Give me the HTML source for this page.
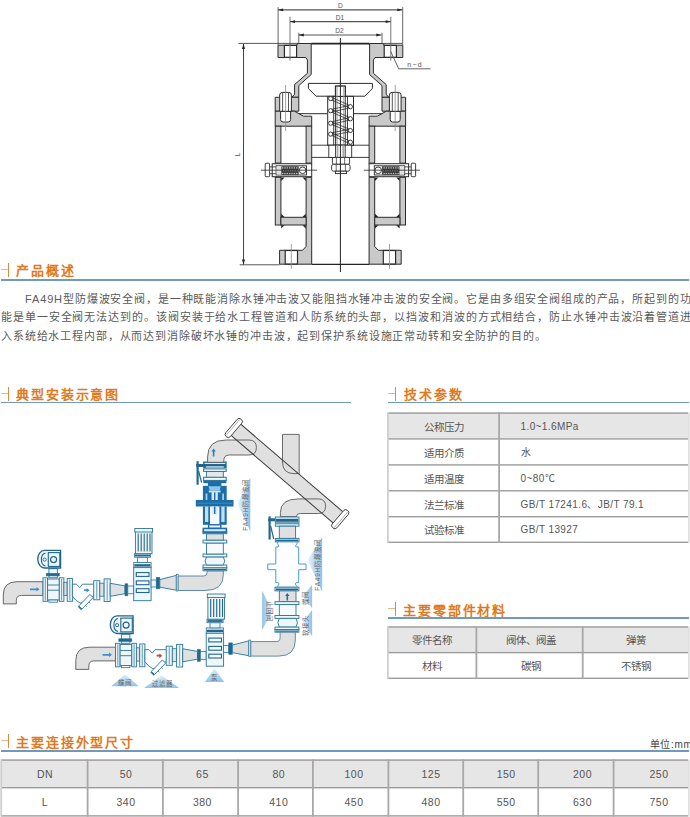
<!DOCTYPE html>
<html lang="zh-CN">
<head>
<meta charset="utf-8">
<style>
*{margin:0;padding:0;box-sizing:border-box}
html,body{width:690px;height:817px;overflow:hidden;background:#fff}
body{position:relative;font-family:"Liberation Sans",sans-serif;color:#444}
.a{position:absolute;white-space:nowrap}
.hd{position:absolute;font-size:13px;font-weight:bold;color:#e07a22;letter-spacing:1.9px;line-height:14px}
.ic{position:absolute;width:8px;height:14px}
.ic:before{content:"";position:absolute;left:0;top:6px;width:7px;height:1px;background:#eab98a}
.ic:after{content:"";position:absolute;left:7px;top:0;width:1px;height:14px;background:#d98a45}
.bl{position:absolute;height:1.6px;background:#7099c2}
.p{position:absolute;left:0;font-size:11px;letter-spacing:0.86px;line-height:14px;color:#5a5a5a;white-space:nowrap}
.t{position:absolute;font-size:10.5px;color:#555;line-height:12px;white-space:nowrap}
.v{letter-spacing:.4px;font-size:10px}
.n{letter-spacing:.5px}
.c{transform:translateX(-50%)}
</style>
</head>
<body>
<svg id="draw" width="690" height="817" viewBox="0 0 690 817" style="position:absolute;left:0;top:0">
<rect x="388" y="412.4" width="300" height="25.80000000000001" fill="#e6e6e6"/>
<rect x="388" y="412.4" width="300" height="1.4" fill="#9c9c9c"/>
<rect x="388" y="438.2" width="300" height="1.4" fill="#9c9c9c"/>
<rect x="388" y="464.2" width="300" height="1.4" fill="#9c9c9c"/>
<rect x="388" y="490.1" width="300" height="1.4" fill="#9c9c9c"/>
<rect x="388" y="516.0" width="300" height="1.4" fill="#9c9c9c"/>
<rect x="388" y="541.6" width="300" height="1.4" fill="#9c9c9c"/>
<rect x="387" y="412.4" width="1.8" height="130.60000000000002" fill="#cfcfcf"/>
<rect x="688" y="412.4" width="1.6" height="130.60000000000002" fill="#dedede"/>
<rect x="498.2" y="412.4" width="1.8" height="130.60000000000002" fill="#a8a8a8"/>
<rect x="388" y="626.3" width="300" height="25.600000000000023" fill="#e6e6e6"/>
<rect x="388" y="626.3" width="300" height="1.4" fill="#9c9c9c"/>
<rect x="388" y="651.9" width="300" height="1.4" fill="#9c9c9c"/>
<rect x="388" y="677.6" width="300" height="1.4" fill="#9c9c9c"/>
<rect x="387" y="626.3" width="1.8" height="52.700000000000045" fill="#cfcfcf"/>
<rect x="688" y="626.3" width="1.6" height="52.700000000000045" fill="#dedede"/>
<rect x="475.5" y="626.3" width="1.8" height="52.700000000000045" fill="#a8a8a8"/>
<rect x="581.8000000000001" y="626.3" width="1.8" height="52.700000000000045" fill="#a8a8a8"/>
<rect x="1" y="759.4" width="687" height="27.600000000000023" fill="#e6e6e6"/>
<rect x="1" y="759.4" width="687" height="1.4" fill="#9c9c9c"/>
<rect x="1" y="787.0" width="687" height="1.4" fill="#9c9c9c"/>
<rect x="1" y="815.2" width="687" height="1.4" fill="#9c9c9c"/>
<rect x="0.3" y="759.4" width="1.8" height="57.200000000000045" fill="#cfcfcf"/>
<rect x="688" y="759.4" width="1.6" height="57.200000000000045" fill="#dedede"/>
<rect x="86.7" y="759.4" width="1.8" height="57.200000000000045" fill="#a8a8a8"/>
<rect x="162.0" y="759.4" width="1.8" height="57.200000000000045" fill="#a8a8a8"/>
<rect x="237.2" y="759.4" width="1.8" height="57.200000000000045" fill="#a8a8a8"/>
<rect x="312.0" y="759.4" width="1.8" height="57.200000000000045" fill="#a8a8a8"/>
<rect x="387.5" y="759.4" width="1.8" height="57.200000000000045" fill="#a8a8a8"/>
<rect x="462.3" y="759.4" width="1.8" height="57.200000000000045" fill="#a8a8a8"/>
<rect x="537.3000000000001" y="759.4" width="1.8" height="57.200000000000045" fill="#a8a8a8"/>
<rect x="612.7" y="759.4" width="1.8" height="57.200000000000045" fill="#a8a8a8"/>
<g id="lh">
<polygon points="278,45.2 297,45.2 297,43.5 311.2,43.5 311.2,74.5 298.8,85.6 298.8,97.3 292,97.3 294.6,94.2 294.6,84.6 307.4,73.3 307.4,60 305.8,57.5 278,57.5" fill="#c9c9c9" stroke="#2b2b2b" stroke-width="1" stroke-linejoin="miter"/>
<rect x="284.4" y="45.4" width="12.20" height="11.90" fill="#fff" stroke="#2b2b2b" stroke-width="1.2"/>
<polygon points="275.2,97.3 298.8,97.3 298.8,111.2 275.2,111.2" fill="#c9c9c9" stroke="#2b2b2b" stroke-width="1" stroke-linejoin="miter"/>
<polygon points="275.2,111.2 294.5,111.2 299,113.7 303.5,116.2 311.7,116.2 311.7,126.2 275.2,126.2" fill="#c9c9c9" stroke="#2b2b2b" stroke-width="1" stroke-linejoin="miter"/>
<line x1="299" y1="113.7" x2="327.7" y2="113.7" stroke="#2b2b2b" stroke-width="1"/>
<path d="M279.7,111.4 L279.7,95 Q279.7,92.4 282.5,92.4 L288.6,92.4 Q291.4,92.4 291.4,95 L291.4,111.4 Z" fill="#fff" stroke="#2b2b2b" stroke-width="1"/>
<line x1="282.6" y1="92.6" x2="282.6" y2="111.2" stroke="#2b2b2b" stroke-width="0.8"/>
<line x1="288.5" y1="92.6" x2="288.5" y2="111.2" stroke="#2b2b2b" stroke-width="0.8"/>
<path d="M280.6,111.4 L280.6,119.5 Q280.6,122 283,122 L288.2,122 Q290.6,122 290.6,119.5 L290.6,111.4 Z" fill="#fff" stroke="#2b2b2b" stroke-width="1"/>
<line x1="285.6" y1="85" x2="285.6" y2="131" stroke="#8a8a8a" stroke-width="0.8"/>
<rect x="275.3" y="126.2" width="5.60" height="36.90" fill="#c9c9c9" stroke="#2b2b2b" stroke-width="1"/>
<rect x="306.1" y="126.2" width="5.60" height="36.90" fill="#c9c9c9" stroke="#2b2b2b" stroke-width="1"/>
<rect x="272.2" y="163.7" width="39.50" height="13.00" fill="#fff" stroke="#2b2b2b" stroke-width="1"/>
<rect x="276.1" y="165.8" width="30.40" height="9.20" fill="#fff" stroke="#2b2b2b" stroke-width="0.9"/>
<rect x="276.6" y="166.3" width="4.70" height="8.20" fill="#e2e2e2" stroke="#2b2b2b" stroke-width="0"/>
<rect x="281.3" y="166.3" width="17.40" height="8.50" fill="#3c3c3c" stroke="#2b2b2b" stroke-width="0"/>
<ellipse cx="282.6" cy="167.9" rx="0.75" ry="0.6" fill="#d8d8d8"/>
<ellipse cx="285.0" cy="167.9" rx="0.75" ry="0.6" fill="#d8d8d8"/>
<ellipse cx="287.3" cy="167.9" rx="0.75" ry="0.6" fill="#d8d8d8"/>
<ellipse cx="289.7" cy="167.9" rx="0.75" ry="0.6" fill="#d8d8d8"/>
<ellipse cx="292.0" cy="167.9" rx="0.75" ry="0.6" fill="#d8d8d8"/>
<ellipse cx="294.4" cy="167.9" rx="0.75" ry="0.6" fill="#d8d8d8"/>
<ellipse cx="296.7" cy="167.9" rx="0.75" ry="0.6" fill="#d8d8d8"/>
<ellipse cx="283.5" cy="170.6" rx="0.75" ry="0.6" fill="#d8d8d8"/>
<ellipse cx="285.9" cy="170.6" rx="0.75" ry="0.6" fill="#d8d8d8"/>
<ellipse cx="288.2" cy="170.6" rx="0.75" ry="0.6" fill="#d8d8d8"/>
<ellipse cx="290.6" cy="170.6" rx="0.75" ry="0.6" fill="#d8d8d8"/>
<ellipse cx="292.9" cy="170.6" rx="0.75" ry="0.6" fill="#d8d8d8"/>
<ellipse cx="295.2" cy="170.6" rx="0.75" ry="0.6" fill="#d8d8d8"/>
<ellipse cx="297.6" cy="170.6" rx="0.75" ry="0.6" fill="#d8d8d8"/>
<ellipse cx="282.6" cy="173.3" rx="0.75" ry="0.6" fill="#d8d8d8"/>
<ellipse cx="285.0" cy="173.3" rx="0.75" ry="0.6" fill="#d8d8d8"/>
<ellipse cx="287.3" cy="173.3" rx="0.75" ry="0.6" fill="#d8d8d8"/>
<ellipse cx="289.7" cy="173.3" rx="0.75" ry="0.6" fill="#d8d8d8"/>
<ellipse cx="292.0" cy="173.3" rx="0.75" ry="0.6" fill="#d8d8d8"/>
<ellipse cx="294.4" cy="173.3" rx="0.75" ry="0.6" fill="#d8d8d8"/>
<ellipse cx="296.7" cy="173.3" rx="0.75" ry="0.6" fill="#d8d8d8"/>
<circle cx="302.6" cy="170.3" r="3.3" fill="#fff" stroke="#2b2b2b" stroke-width="0.9"/>
<rect x="265.2" y="163.2" width="4.40" height="13.50" fill="#fff" stroke="#2b2b2b" stroke-width="0.9" rx="0.8"/>
<line x1="269.6" y1="166.9" x2="276.1" y2="166.9" stroke="#2b2b2b" stroke-width="0.8"/>
<line x1="269.6" y1="173.7" x2="276.1" y2="173.7" stroke="#2b2b2b" stroke-width="0.8"/>
<line x1="260.9" y1="170.2" x2="317" y2="170.2" stroke="#2b2b2b" stroke-width="0.8"/>
<rect x="275.3" y="177.3" width="5.60" height="47.70" fill="#c9c9c9" stroke="#2b2b2b" stroke-width="1"/>
<polygon points="306.1,177.3 311.7,177.3 311.7,264.2 279.6,264.2 279.6,250.3 302.5,250.3 306.1,246.5" fill="#c9c9c9" stroke="#2b2b2b" stroke-width="1" stroke-linejoin="miter"/>
<rect x="280.9" y="217.3" width="25.20" height="7.70" fill="#c9c9c9" stroke="#2b2b2b" stroke-width="1"/>
<rect x="285.2" y="250.5" width="12.30" height="13.50" fill="#fff" stroke="#2b2b2b" stroke-width="1.2"/>
<polygon points="281.2,177.6 284.5,177.6 281.2,180.9" fill="#222"/>
<polygon points="305.8,177.6 302.5,177.6 305.8,180.9" fill="#222"/>
<polygon points="281.2,217 284.5,217 281.2,213.7" fill="#222"/>
<polygon points="305.8,217 302.5,217 305.8,213.7" fill="#222"/>
<polygon points="281.2,225.3 284.5,225.3 281.2,228.60000000000002" fill="#222"/>
<polygon points="305.8,225.3 302.5,225.3 305.8,228.60000000000002" fill="#222"/>
<line x1="291.3" y1="244" x2="291.3" y2="268.7" stroke="#8a8a8a" stroke-width="0.8"/>
<line x1="278.1" y1="7.2" x2="278.1" y2="45.2" stroke="#555" stroke-width="0.9"/>
<line x1="290" y1="16.7" x2="290" y2="60.6" stroke="#666" stroke-width="0.9"/>
<line x1="298.8" y1="32.7" x2="298.8" y2="43.5" stroke="#555" stroke-width="0.9"/>
</g>
<use href="#lh" transform="matrix(-1,0,0,1,680.8,0)"/>
<line x1="238.4" y1="43.4" x2="297" y2="43.4" stroke="#444" stroke-width="0.9"/>
<line x1="384" y1="43.4" x2="402.3" y2="43.4" stroke="#444" stroke-width="0.9"/>
<line x1="311.2" y1="43.6" x2="369.6" y2="43.6" stroke="#222" stroke-width="1.6"/>
<line x1="239.7" y1="264.8" x2="279.6" y2="264.8" stroke="#444" stroke-width="0.9"/>
<line x1="311.7" y1="264.3" x2="369.1" y2="264.3" stroke="#222" stroke-width="1.3"/>
<line x1="243.5" y1="44" x2="243.5" y2="264.6" stroke="#444" stroke-width="1"/>
<polygon points="243.5,43.6 242,49 245,49" fill="#222"/>
<polygon points="243.5,264.6 242,259.5 245,259.5" fill="#222"/>
<line x1="278.1" y1="9.8" x2="402.3" y2="9.8" stroke="#555" stroke-width="1.2"/>
<polygon points="278.1,9.8 283.1,8.4 283.1,11.200000000000001" fill="#222"/>
<polygon points="402.3,9.8 397.3,8.4 397.3,11.200000000000001" fill="#222"/>
<line x1="290" y1="21.6" x2="390.7" y2="21.6" stroke="#555" stroke-width="1.2"/>
<polygon points="290,21.6 295,20.200000000000003 295,23.0" fill="#222"/>
<polygon points="390.7,21.6 385.7,20.200000000000003 385.7,23.0" fill="#222"/>
<line x1="298.8" y1="35" x2="381.3" y2="35" stroke="#555" stroke-width="1.2"/>
<polygon points="298.8,35 303.8,33.6 303.8,36.4" fill="#222"/>
<polygon points="381.3,35 376.3,33.6 376.3,36.4" fill="#222"/>
<text x="340.3" y="7.9" font-size="6.6" text-anchor="middle" fill="#555" font-family="Liberation Sans">D</text>
<text x="340" y="19.8" font-size="6.6" text-anchor="middle" fill="#555" font-family="Liberation Sans">D1</text>
<text x="339.5" y="32.9" font-size="6.6" text-anchor="middle" fill="#555" font-family="Liberation Sans">D2</text>
<text transform="translate(239.8,156.2) rotate(-90)" x="0" y="0" font-size="6.6" fill="#555" font-family="Liberation Sans">L</text>
<polyline points="390.7,51.4 398.7,68.8 430.6,68.8" fill="none" stroke="#555" stroke-width="0.9"/>
<text x="407.2" y="67" font-size="7" letter-spacing="1.3" fill="#555" font-family="Liberation Sans">n−d</text>
<polygon points="308.4,83.4 372.4,83.4 372.4,88.5 364.7,96.2 316,96.2 308.4,88.5" fill="#fff" stroke="#2b2b2b" stroke-width="1" stroke-linejoin="miter"/>
<rect x="335.3" y="86" width="10.10" height="10.40" fill="#fff" stroke="#2b2b2b" stroke-width="0.9"/>
<rect x="336.2" y="86.5" width="1.60" height="9.50" fill="#bbb" stroke="#2b2b2b" stroke-width="0"/>
<rect x="343" y="86.5" width="1.60" height="9.50" fill="#bbb" stroke="#2b2b2b" stroke-width="0"/>
<rect x="327.7" y="96.4" width="25.80" height="49.00" fill="#fff" stroke="#2b2b2b" stroke-width="1"/>
<line x1="335.5" y1="86" x2="335.5" y2="157.4" stroke="#2b2b2b" stroke-width="0.9"/>
<line x1="345.3" y1="86" x2="345.3" y2="157.4" stroke="#2b2b2b" stroke-width="0.9"/>
<rect x="336.2" y="96.6" width="1.60" height="48.40" fill="#bbb" stroke="#2b2b2b" stroke-width="0"/>
<rect x="343" y="96.6" width="1.60" height="48.40" fill="#bbb" stroke="#2b2b2b" stroke-width="0"/>
<line x1="333.7" y1="96.4" x2="333.7" y2="145.4" stroke="#2b2b2b" stroke-width="0.9"/>
<line x1="347.5" y1="96.4" x2="347.5" y2="145.4" stroke="#2b2b2b" stroke-width="0.9"/>
<line x1="331.5" y1="97.3" x2="349.5" y2="105.4" stroke="#2b2b2b" stroke-width="0.75"/>
<line x1="331.5" y1="99.89999999999999" x2="349.5" y2="108.0" stroke="#2b2b2b" stroke-width="0.75"/>
<line x1="349.5" y1="105.4" x2="331.5" y2="109.4" stroke="#2b2b2b" stroke-width="0.75"/>
<line x1="349.5" y1="108.0" x2="331.5" y2="112.0" stroke="#2b2b2b" stroke-width="0.75"/>
<line x1="331.5" y1="109.4" x2="349.5" y2="117.5" stroke="#2b2b2b" stroke-width="0.75"/>
<line x1="331.5" y1="112.0" x2="349.5" y2="120.1" stroke="#2b2b2b" stroke-width="0.75"/>
<line x1="349.5" y1="117.5" x2="331.5" y2="121.9" stroke="#2b2b2b" stroke-width="0.75"/>
<line x1="349.5" y1="120.1" x2="331.5" y2="124.5" stroke="#2b2b2b" stroke-width="0.75"/>
<line x1="331.5" y1="121.9" x2="349.5" y2="129.2" stroke="#2b2b2b" stroke-width="0.75"/>
<line x1="331.5" y1="124.5" x2="349.5" y2="131.8" stroke="#2b2b2b" stroke-width="0.75"/>
<line x1="349.5" y1="129.2" x2="331.5" y2="132.79999999999998" stroke="#2b2b2b" stroke-width="0.75"/>
<line x1="349.5" y1="131.8" x2="331.5" y2="135.4" stroke="#2b2b2b" stroke-width="0.75"/>
<line x1="331.5" y1="132.79999999999998" x2="349.5" y2="140.89999999999998" stroke="#2b2b2b" stroke-width="0.75"/>
<line x1="331.5" y1="135.4" x2="349.5" y2="143.5" stroke="#2b2b2b" stroke-width="0.75"/>
<line x1="335.3" y1="86" x2="345.4" y2="86" stroke="#2b2b2b" stroke-width="0.9"/>
<circle cx="330.6" cy="98.6" r="2.1" fill="#fff" stroke="#2b2b2b" stroke-width="0.9"/>
<circle cx="330.6" cy="110.7" r="2.1" fill="#fff" stroke="#2b2b2b" stroke-width="0.9"/>
<circle cx="330.6" cy="123.2" r="2.1" fill="#fff" stroke="#2b2b2b" stroke-width="0.9"/>
<circle cx="330.6" cy="134.1" r="2.1" fill="#fff" stroke="#2b2b2b" stroke-width="0.9"/>
<circle cx="350.4" cy="106.7" r="2.1" fill="#fff" stroke="#2b2b2b" stroke-width="0.9"/>
<circle cx="350.4" cy="118.8" r="2.1" fill="#fff" stroke="#2b2b2b" stroke-width="0.9"/>
<circle cx="350.4" cy="130.5" r="2.1" fill="#fff" stroke="#2b2b2b" stroke-width="0.9"/>
<circle cx="350.4" cy="142.2" r="2.1" fill="#fff" stroke="#2b2b2b" stroke-width="0.9"/>
<line x1="311.7" y1="145.2" x2="369" y2="145.2" stroke="#2b2b2b" stroke-width="0.9"/>
<line x1="311.7" y1="157.4" x2="369" y2="157.4" stroke="#2b2b2b" stroke-width="0.9"/>
<rect x="328.8" y="145.2" width="22.90" height="12.20" fill="#fff" stroke="#2b2b2b" stroke-width="0.9"/>
<rect x="335.6" y="145.2" width="9.60" height="12.20" fill="#fff" stroke="#2b2b2b" stroke-width="0.9"/>
<rect x="336.6" y="145.6" width="1.80" height="11.40" fill="#aaa" stroke="#2b2b2b" stroke-width="0"/>
<rect x="342.4" y="145.6" width="1.80" height="11.40" fill="#aaa" stroke="#2b2b2b" stroke-width="0"/>
<rect x="332.4" y="157.4" width="17.20" height="6.90" fill="#fff" stroke="#2b2b2b" stroke-width="0.9" rx="1.5"/>
<line x1="336.4" y1="157.6" x2="336.4" y2="164.1" stroke="#2b2b2b" stroke-width="0.7"/>
<line x1="344.6" y1="157.6" x2="344.6" y2="164.1" stroke="#2b2b2b" stroke-width="0.7"/>
<rect x="331.6" y="164.3" width="18.50" height="6.90" fill="#fff" stroke="#2b2b2b" stroke-width="0.9" rx="2"/>
<line x1="336.2" y1="164.5" x2="336.2" y2="171" stroke="#2b2b2b" stroke-width="0.7"/>
<line x1="345.4" y1="164.5" x2="345.4" y2="171" stroke="#2b2b2b" stroke-width="0.7"/>
<rect x="335.4" y="171.2" width="11.20" height="2.40" fill="#fff" stroke="#2b2b2b" stroke-width="0.9"/>
<line x1="340.4" y1="38" x2="340.4" y2="272" stroke="#222" stroke-width="1"/>
<defs><linearGradient id="gl" x1="1" y1="0" x2="0" y2="0"><stop offset="0" stop-color="#8fc3e8"/><stop offset="1" stop-color="#e6f2fa"/></linearGradient><linearGradient id="gr" x1="0" y1="0" x2="1" y2="0"><stop offset="0" stop-color="#8fc3e8"/><stop offset="1" stop-color="#e6f2fa"/></linearGradient><linearGradient id="gu" x1="0" y1="1" x2="0" y2="0"><stop offset="0" stop-color="#8fc3e8"/><stop offset="1" stop-color="#dcecf8"/></linearGradient></defs>
<g id="ln1"><path d="M3.3,603.9 L3.3,595 Q3.3,581.7 17,581.7 L43,581.7 L43,595.4 L21.5,595.4 Q16.3,595.4 16.3,600.5 L16.3,603.9 Z" fill="#e0e0e0" stroke="#5a5a5a" stroke-width="0.9"/><path d="M30,588.4 h6.5 v-1.4 l3,2.3 l-3,2.3 v-1.4 h-6.5 z" fill="#3d8fd0"/><rect x="43" y="577.8" width="4.60" height="23.50" fill="#eef7fa" stroke="#2a7499" stroke-width="0.9"/><line x1="45.3" y1="578.8" x2="45.3" y2="600.3" stroke="#2a7499" stroke-width="0.7"/><rect x="47.6" y="579" width="11.70" height="21.00" fill="#eef7fa" stroke="#2a7499" stroke-width="0.9"/><line x1="47.6" y1="585" x2="59.3" y2="585" stroke="#2a7499" stroke-width="0.9"/><line x1="47.6" y1="590.2" x2="59.3" y2="590.2" stroke="#2a7499" stroke-width="0.9"/><rect x="48.9" y="600" width="8.50" height="2.20" fill="#eef7fa" stroke="#2a7499" stroke-width="0.8"/><rect x="59.3" y="577.8" width="4.60" height="23.50" fill="#eef7fa" stroke="#2a7499" stroke-width="0.9"/><line x1="61.599999999999994" y1="578.8" x2="61.599999999999994" y2="600.3" stroke="#2a7499" stroke-width="0.7"/><rect x="48.9" y="568.7" width="8.50" height="9.10" fill="#eef7fa" stroke="#2a7499" stroke-width="0.9"/><rect x="46.3" y="573.3" width="13.00" height="2.60" fill="#22668f" stroke="#2a7499" stroke-width="0.6"/><path d="M44.5,550.4 L60.6,550.4 L60.6,568 L44.5,568 A6.7,8.8 0 0 1 44.5,550.4 Z" fill="#eef7fa" stroke="#22668f" stroke-width="1.3"/><rect x="48.3" y="552.6" width="11.50" height="13.80" fill="#eef7fa" stroke="#22668f" stroke-width="1.1"/><path d="M45.5,553 A5,6.6 0 0 0 45.5,566" fill="none" stroke="#22668f" stroke-width="1.1"/><circle cx="53.6" cy="559.6" r="3" fill="none" stroke="#22668f" stroke-width="1.2"/><circle cx="44.6" cy="559.6" r="1.6" fill="none" stroke="#22668f" stroke-width="0.9"/><rect x="63.9" y="582.3" width="3.30" height="13.30" fill="#e0e0e0" stroke="#2a7499" stroke-width="0.8"/><rect x="67.2" y="578.5" width="5.20" height="22.80" fill="#eef7fa" stroke="#2a7499" stroke-width="0.9"/><line x1="69.80000000000001" y1="579.5" x2="69.80000000000001" y2="600.3" stroke="#2a7499" stroke-width="0.7"/><path d="M72.4,584.2 L76.5,584.2 L79.7,587.7 L82.5,584.2 L94.4,584.2 L94.4,595.5 L90,598 Q85,604 80,603 Q75,600.5 72.4,596 Z" fill="#fbfdff" stroke="#2a7499" stroke-width="0.9"/><polygon points="93.1,597.6 89.9,594.4 78.9,605.9 82.1,609.1" fill="#fbfdff" stroke="#2a7499" stroke-width="0.9"/><line x1="78.2" y1="606.4" x2="81.6" y2="609.8" stroke="#2a7499" stroke-width="1.3"/><line x1="85.5" y1="605.5" x2="86.8" y2="606.8" stroke="#2a7499" stroke-width="0.8"/><line x1="89" y1="602" x2="90.3" y2="603.3" stroke="#2a7499" stroke-width="0.8"/><path d="M84.1,589.3000000000001 h2.5 v-1.4 l3,2.3 l-3,2.3 v-1.4 h-2.5 z" fill="#3d8fd0"/><rect x="93.7" y="580.7" width="6.10" height="19.10" fill="#eef7fa" stroke="#2a7499" stroke-width="0.9"/><line x1="96.75" y1="581.7" x2="96.75" y2="598.8" stroke="#2a7499" stroke-width="0.7"/><rect x="99.8" y="583.2" width="4.30" height="13.00" fill="#e0e0e0" stroke="#2a7499" stroke-width="0.8"/><rect x="104.1" y="578.9" width="6.10" height="22.60" fill="#eef7fa" stroke="#2a7499" stroke-width="0.9"/><line x1="107.15" y1="579.9" x2="107.15" y2="600.5" stroke="#2a7499" stroke-width="0.7"/><polygon points="110.2,583.3 125,585.9 125,593.7 110.2,596.3" fill="#e0e0e0" stroke="#2a7499" stroke-width="0.9"/><rect x="125" y="583.8" width="2.80" height="12.00" fill="#22668f" stroke="#2a7499" stroke-width="0.6"/><rect x="127.8" y="586" width="5.90" height="7.80" fill="#eef7fa" stroke="#2a7499" stroke-width="0.8"/><rect x="133.7" y="567.6" width="17.40" height="33.10" fill="#eef7fa" stroke="#2a7499" stroke-width="0.9"/><rect x="136.3" y="572.6" width="12.70" height="3.80" fill="#f7fbfd" stroke="#22668f" stroke-width="1.1"/><rect x="136.3" y="580.9" width="12.70" height="3.80" fill="#f7fbfd" stroke="#22668f" stroke-width="1.1"/><rect x="136.3" y="588.7" width="12.70" height="3.80" fill="#f7fbfd" stroke="#22668f" stroke-width="1.1"/><rect x="133.7" y="562.4" width="17.40" height="5.20" fill="#eef7fa" stroke="#2a7499" stroke-width="0.8"/><rect x="134.3" y="564.2" width="16.20" height="2.40" fill="#22668f" stroke="none" stroke-width="0"/><rect x="137.5" y="557.2" width="10.00" height="5.20" fill="#eef7fa" stroke="#2a7499" stroke-width="0.8"/><rect x="134.5" y="553.7" width="16.10" height="3.50" fill="#eef7fa" stroke="#2a7499" stroke-width="0.8"/><rect x="135" y="554.6" width="15.00" height="1.80" fill="#22668f" stroke="none" stroke-width="0"/><rect x="135.4" y="531" width="16.60" height="22.70" fill="#eef7fa" stroke="#2a7499" stroke-width="0.9"/><line x1="138.2" y1="533.5" x2="138.2" y2="551.5" stroke="#22668f" stroke-width="1.1"/><line x1="141.2" y1="533.5" x2="141.2" y2="551.5" stroke="#22668f" stroke-width="1.1"/><line x1="144.2" y1="533.5" x2="144.2" y2="551.5" stroke="#22668f" stroke-width="1.1"/><line x1="147.2" y1="533.5" x2="147.2" y2="551.5" stroke="#22668f" stroke-width="1.1"/><line x1="150" y1="533.5" x2="150" y2="551.5" stroke="#22668f" stroke-width="1.1"/><rect x="134.8" y="528.5" width="17.80" height="3.50" fill="#eef7fa" stroke="#2a7499" stroke-width="0.9"/><rect x="151.1" y="580" width="5.20" height="7.00" fill="#eef7fa" stroke="#2a7499" stroke-width="0.8"/><rect x="156.3" y="577.4" width="3.50" height="11.40" fill="#22668f" stroke="#2a7499" stroke-width="0.6"/><polygon points="159.8,579.6 176.3,575.4 176.3,590.2 159.8,587.2" fill="#e0e0e0" stroke="#2a7499" stroke-width="0.9"/><rect x="176.3" y="574.6" width="1.90" height="16.40" fill="#eef7fa" stroke="#2a7499" stroke-width="0.7"/></g>
<use href="#ln1" transform="translate(72.5,65.5)"/>
<rect x="155.5" y="653.5" width="7.50" height="4.50" fill="#fbfdff" stroke="none" stroke-width="0"/>
<path d="M156.6,654.8000000000001 h2.700000000000017 v-1.4 l3,2.3 l-3,2.3 v-1.4 h-2.700000000000017 z" fill="#e03a3a"/>
<path d="M178.2,576 L203.6,576 Q207.1,576 207.1,572.5 L207.1,570.8 L223.3,570.8 L223.3,575 Q223.3,590.5 205,590.5 L178.2,590.5 Z" fill="#e0e0e0" stroke="#4f7f9f" stroke-width="0.9"/>
<rect x="203" y="565" width="23.80" height="2.90" fill="#eef7fa" stroke="#2a7499" stroke-width="0.9"/>
<rect x="203" y="567.9" width="23.80" height="2.90" fill="#eef7fa" stroke="#2a7499" stroke-width="0.9"/><rect x="203.8" y="568.915" width="22.20" height="1.30" fill="#22668f" stroke="none" stroke-width="0"/>
<path d="M206.5,556.9 Q203.6,561 206.5,565 L223.3,565 Q226.2,561 223.3,556.9 Z" fill="#eef7fa" stroke="#2a7499" stroke-width="0.9"/>
<rect x="203" y="554" width="23.80" height="2.90" fill="#eef7fa" stroke="#2a7499" stroke-width="0.9"/>
<rect x="206.5" y="543" width="16.80" height="11.00" fill="#f7fbfe" stroke="#2a7499" stroke-width="0.9"/>
<rect x="203" y="540.1" width="23.80" height="2.90" fill="#eef7fa" stroke="#2a7499" stroke-width="0.9"/>
<rect x="206.5" y="533.7" width="16.80" height="6.40" fill="#e0e0e0" stroke="#2a7499" stroke-width="0.9"/>
<rect x="203" y="531.2" width="23.80" height="2.50" fill="#eef7fa" stroke="#2a7499" stroke-width="0.9"/><rect x="203.8" y="532.075" width="22.20" height="1.12" fill="#22668f" stroke="none" stroke-width="0"/>
<rect x="203.3" y="480.1" width="23.10" height="3.10" fill="#1d6ea8" stroke="none" stroke-width="0"/>
<rect x="207.9" y="483" width="13.50" height="3.00" fill="#1d6ea8" stroke="none" stroke-width="0"/>
<rect x="202.9" y="485.8" width="23.80" height="14.40" fill="#1d6ea8" stroke="none" stroke-width="0"/>
<polygon points="208.4,486.2 220.9,486.2 219.6,490.6 209.7,490.6" fill="#8cc6ee"/>
<rect x="208.8" y="490.6" width="11.80" height="1.80" fill="#cfe8f8" stroke="none" stroke-width="0"/>
<rect x="205.6" y="493.5" width="1.80" height="6.50" fill="#9fd0f0" stroke="none" stroke-width="0"/>
<rect x="222.2" y="493.5" width="1.80" height="6.50" fill="#9fd0f0" stroke="none" stroke-width="0"/>
<rect x="211.6" y="492.2" width="6.20" height="22.30" fill="#d6ecfa" stroke="none" stroke-width="0"/>
<line x1="214.7" y1="492.5" x2="214.7" y2="514" stroke="#1d6ea8" stroke-width="1.4"/>
<rect x="195.8" y="500" width="37.70" height="6.50" fill="#1d6ea8" stroke="none" stroke-width="0"/>
<line x1="197.5" y1="503.2" x2="232" y2="503.2" stroke="#3f93d2" stroke-width="0.8"/>
<rect x="202.9" y="506.4" width="23.80" height="18.40" fill="#1d6ea8" stroke="none" stroke-width="0"/>
<rect x="205" y="506.6" width="3.30" height="15.40" fill="#bfe0f5" stroke="none" stroke-width="0"/>
<rect x="221.3" y="506.6" width="3.30" height="15.40" fill="#bfe0f5" stroke="none" stroke-width="0"/>
<rect x="210" y="506.6" width="9.40" height="21.80" fill="#f4fafe" stroke="none" stroke-width="0"/>
<rect x="211.6" y="506.6" width="6.20" height="7.90" fill="#d6ecfa" stroke="none" stroke-width="0"/>
<line x1="214.7" y1="506.6" x2="214.7" y2="514" stroke="#1d6ea8" stroke-width="1.4"/>
<rect x="208.6" y="524.8" width="12.20" height="3.60" fill="#f4fafe" stroke="#1d6ea8" stroke-width="1.4"/>
<rect x="203.3" y="528.4" width="23.10" height="3.60" fill="#cfe6f5" stroke="#1d6ea8" stroke-width="1.5"/>
<rect x="203.6" y="477.2" width="22.60" height="3.20" fill="#f6fbfd" stroke="#2a7499" stroke-width="1"/>
<rect x="206.4" y="471.2" width="16.90" height="6.00" fill="#e4e6e8" stroke="#2a7499" stroke-width="0.9"/>
<rect x="203.6" y="468.9" width="22.60" height="2.50" fill="#f6fbfd" stroke="#2a7499" stroke-width="1"/>
<rect x="203.6" y="461.9" width="22.60" height="5.90" fill="#22668f" stroke="#2a7499" stroke-width="0.8"/>
<rect x="204.6" y="462.8" width="20.60" height="1.10" fill="#f2f9fc" stroke="none" stroke-width="0"/>
<rect x="206" y="466.4" width="17.80" height="1.10" fill="#f2f9fc" stroke="none" stroke-width="0"/>
<rect x="196.2" y="464" width="7.80" height="3.00" fill="#22668f" stroke="none" stroke-width="0"/>
<line x1="197.6" y1="461.2" x2="197.6" y2="484.7" stroke="#22668f" stroke-width="2.2"/>
<line x1="198.6" y1="471" x2="201.6" y2="482.6" stroke="#22668f" stroke-width="1.2"/>
<g transform="translate(235.9,429.8) rotate(40.6)"><rect x="0" y="-7.4" width="134.6" height="14.8" fill="#e0e0e0" stroke="none"/></g>
<path d="M282.5,434.4 L299.2,434.4 L299.2,473.6 L294,473.6 Q282.5,473.6 282.5,462 Z" fill="#e0e0e0" stroke="#5a5a5a" stroke-width="0.9"/>
<path d="M207.6,462.3 L207.6,457 Q207.6,440 226,440 L249,440 Q256.4,440 256.4,447.5 Q256.4,455 249,455 L229.5,455 Q223.8,455 223.8,460.5 L223.8,462.3 Z" fill="#e0e0e0" stroke="#5a5a5a" stroke-width="0.9"/>
<path d="M212.79999999999998,456.4 v-5.0 h-1.4 l2.2,-3 l2.2,3 h-1.4 v5.0 z" fill="#2f7fc0"/>
<path d="M280.4,516.6 L280.4,512.5 Q280.4,498.9 298.5,498.9 L318.3,498.9 Q325.6,498.9 325.6,506.2 Q325.6,513.5 318.3,513.5 L300.5,513.5 Q296.7,513.5 296.7,515.8 L296.7,516.6 Z" fill="#e0e0e0" stroke="#5a5a5a" stroke-width="0.9"/>
<g transform="translate(235.9,429.8) rotate(40.6)"><line x1="0" y1="-7.4" x2="134.6" y2="-7.4" stroke="#3a3a3a" stroke-width="1"/><line x1="0" y1="7.4" x2="134.6" y2="7.4" stroke="#3a3a3a" stroke-width="1"/><rect x="-5.8" y="-11.4" width="6" height="22.8" rx="2.6" fill="#fff" stroke="#3a3a3a" stroke-width="0.9"/><line x1="-3.8" y1="-10.4" x2="-3.8" y2="10.4" stroke="#888" stroke-width="0.6"/><rect x="134.4" y="-11.4" width="6" height="22.8" rx="2.6" fill="#fff" stroke="#3a3a3a" stroke-width="0.9"/><line x1="138.4" y1="-10.4" x2="138.4" y2="10.4" stroke="#888" stroke-width="0.6"/></g>
<rect x="268.3" y="518.3" width="7.00" height="3.00" fill="#22668f" stroke="none" stroke-width="0"/>
<line x1="269.6" y1="516.4" x2="269.6" y2="539.6" stroke="#22668f" stroke-width="2.2"/>
<line x1="270.6" y1="526" x2="273.8" y2="539" stroke="#22668f" stroke-width="1.2"/>
<rect x="275.3" y="517" width="23.70" height="5.80" fill="#eef7fa" stroke="#2a7499" stroke-width="0.9"/>
<rect x="276" y="518.8" width="22.30" height="3.00" fill="#22668f" stroke="none" stroke-width="0"/>
<rect x="275.3" y="523.8" width="23.70" height="2.40" fill="#eef7fa" stroke="#2a7499" stroke-width="0.9"/>
<rect x="279.3" y="526.2" width="16.30" height="12.20" fill="#e0e0e0" stroke="#2a7499" stroke-width="0.9"/>
<rect x="275.3" y="538.4" width="23.70" height="3.50" fill="#eef7fa" stroke="#2a7499" stroke-width="0.9"/><rect x="276.1" y="539.625" width="22.10" height="1.57" fill="#22668f" stroke="none" stroke-width="0"/>
<path d="M277.5,541.9 L296.8,541.9 Q297.6,543.5 296.2,544.8 Q294.8,546.2 296.2,547 L298.7,547 L298.7,564 L306,564 L306,569.7 L298.7,569.7 L298.7,582.6 L296.2,582.6 Q294.6,584 296.2,585.4 Q297.6,586.4 296.8,587.2 L277.5,587.2 Q276.8,586.4 278.2,585.4 Q279.8,584 278.2,582.6 L275.8,582.6 L275.8,569.7 L267.8,569.7 L267.8,564 L275.8,564 L275.8,547 L278.2,547 Q279.8,546.2 278.2,544.8 Q276.8,543.5 277.5,541.9 Z" fill="#fdfeff" stroke="#4d9bd0" stroke-width="1"/>
<rect x="275" y="587.2" width="23.90" height="3.70" fill="#eef7fa" stroke="#2a7499" stroke-width="0.9"/><rect x="275.8" y="588.495" width="22.30" height="1.66" fill="#22668f" stroke="none" stroke-width="0"/>
<rect x="279.3" y="590.9" width="16.70" height="10.80" fill="#e0e0e0" stroke="#2a7499" stroke-width="0.9"/>
<path d="M286.5,600.5 v-4.5 h-1.4 l2.2,-3 l2.2,3 h-1.4 v4.5 z" fill="#1f6fb0"/>
<rect x="275" y="601.7" width="23.90" height="2.90" fill="#eef7fa" stroke="#2a7499" stroke-width="0.9"/>
<rect x="279.3" y="604.6" width="16.70" height="10.90" fill="#f7fbfe" stroke="#2a7499" stroke-width="0.9"/>
<rect x="275" y="615.5" width="23.90" height="2.90" fill="#eef7fa" stroke="#2a7499" stroke-width="0.9"/>
<path d="M279.3,618.4 Q276.4,622.7 279.3,627.1 L296,627.1 Q298.9,622.7 296,618.4 Z" fill="#eef7fa" stroke="#2a7499" stroke-width="0.9"/>
<rect x="275" y="627.1" width="23.90" height="2.50" fill="#eef7fa" stroke="#2a7499" stroke-width="0.9"/>
<rect x="275" y="629.6" width="23.90" height="2.60" fill="#eef7fa" stroke="#2a7499" stroke-width="0.9"/><rect x="275.8" y="630.51" width="22.30" height="1.17" fill="#22668f" stroke="none" stroke-width="0"/>
<path d="M250.8,641.6 L276.5,641.6 Q280.1,641.6 280.1,637.5 L280.1,632.2 L295.3,632.2 L295.3,640 Q295.3,656.1 278.6,656.1 L250.8,656.1 Z" fill="#e0e0e0" stroke="#4f7f9f" stroke-width="0.9"/>
<polygon points="237.8,503.7 250.3,477.6 250.3,531.5" fill="url(#gl)"/>
<polygon points="307.8,560 322.2,537.2 322.2,592" fill="url(#gl)"/>
<polygon points="262.1,590.7 272.5,610.5 262.1,630.3" fill="url(#gr)"/>
<polygon points="302.2,596.3 312.1,585 312.1,608.1" fill="url(#gl)"/>
<polygon points="302.2,622.7 312.1,610 312.1,636" fill="url(#gl)"/>
<polygon points="125,674.6 111.3,686.2 138.8,686.2" fill="url(#gu)"/>
<polygon points="161.6,675.5 144,688 179.3,688" fill="url(#gu)"/>
<polygon points="214.5,668.5 204.8,682 224.3,682" fill="url(#gu)"/>
</svg>
<div class="a" style="left:246.2px;top:505.2px;font-size:6.4px;letter-spacing:0.9px;color:#666;line-height:6.4px;transform:translate(-50%,-50%) rotate(-90deg)">FA49H防爆波阀</div>
<div class="a" style="left:317.6px;top:565px;font-size:6.4px;letter-spacing:0.9px;color:#666;line-height:6.4px;transform:translate(-50%,-50%) rotate(-90deg)">FA49H防爆波阀</div>
<div class="a" style="left:268.6px;top:611px;font-size:6.4px;letter-spacing:1.0px;color:#666;line-height:6.4px;transform:translate(-50%,-50%) rotate(90deg)">止回阀</div>
<div class="a" style="left:306.2px;top:598px;font-size:6.4px;letter-spacing:1.0px;color:#666;line-height:6.4px;transform:translate(-50%,-50%) rotate(-90deg)">蝶阀</div>
<div class="a" style="left:306.2px;top:624.8px;font-size:6.4px;letter-spacing:1.0px;color:#666;line-height:6.4px;transform:translate(-50%,-50%) rotate(-90deg)">软接头</div>
<div class="a" style="left:125.2px;top:682.6px;font-size:6.4px;letter-spacing:1.0px;color:#666;line-height:6.4px;transform:translate(-50%,-50%)">蝶阀</div>
<div class="a" style="left:162px;top:684.2px;font-size:6.4px;letter-spacing:1.0px;color:#666;line-height:6.4px;transform:translate(-50%,-50%)">过滤器</div>
<div class="a" style="left:214.5px;top:678.4px;font-size:6.4px;letter-spacing:1.0px;color:#666;line-height:6.4px;transform:translate(-50%,-50%)">泵</div>

<!-- 产品概述 -->
<div class="ic" style="left:1px;top:263px"></div>
<div class="hd" style="left:16px;top:264px">产品概述</div>
<div class="bl" style="left:1px;top:279.4px;width:688px"></div>

<div class="p" style="left:25px;top:292px">FA49H型防爆波安全阀，是一种既能消除水锤冲击波又能阻挡水锤冲击波的安全阀。它是由多组安全阀组成的产品，所起到的功</div>
<div class="p" style="left:1px;top:310px;letter-spacing:0.915px">能是单一安全阀无法达到的。该阀安装于给水工程管道和人防系统的头部，以挡波和消波的方式相结合，防止水锤冲击波沿着管道进</div>
<div class="p" style="left:1px;top:329px">入系统给水工程内部，从而达到消除破坏水锤的冲击波，起到保护系统设施正常动转和安全防护的目的。</div>

<!-- 典型安装示意图 -->
<div class="ic" style="left:1px;top:387px"></div>
<div class="hd" style="left:16px;top:388px">典型安装示意图</div>
<div class="bl" style="left:1px;top:401.8px;width:350px"></div>

<!-- 技术参数 -->
<div class="ic" style="left:388px;top:387px"></div>
<div class="hd" style="left:404px;top:388px">技术参数</div>
<div class="bl" style="left:388px;top:401.8px;width:301px"></div>

<!-- 主要零部件材料 -->
<div class="ic" style="left:388px;top:602px"></div>
<div class="hd" style="left:403px;top:603.5px">主要零部件材料</div>
<div class="bl" style="left:388px;top:617.3px;width:301px"></div>

<!-- 主要连接外型尺寸 -->
<div class="ic" style="left:1px;top:734px"></div>
<div class="hd" style="left:16px;top:735.5px">主要连接外型尺寸</div>
<div class="bl" style="left:1px;top:750.2px;width:688px"></div>
<div class="t" style="left:649.5px;top:738.5px;font-size:10px;color:#444;letter-spacing:0.7px">单位:mm</div>

<!-- tables drawn in svg + text -->
<div class="t c" style="left:443.5px;top:420.9px">公称压力</div>
<div class="t v" style="left:520.5px;top:420.9px">1.0~1.6MPa</div>
<div class="t c" style="left:443.5px;top:446.8px">适用介质</div>
<div class="t v" style="left:520.5px;top:446.8px">水</div>
<div class="t c" style="left:443.5px;top:472.8px">适用温度</div>
<div class="t v" style="left:520.5px;top:472.8px">0~80℃</div>
<div class="t c" style="left:443.5px;top:498.7px">法兰标准</div>
<div class="t v" style="left:520.5px;top:498.7px">GB/T 17241.6、JB/T 79.1</div>
<div class="t c" style="left:443.5px;top:524.4px">试验标准</div>
<div class="t v" style="left:520.5px;top:524.4px">GB/T 13927</div>
<div class="t c" style="left:432.2px;top:633.8px">零件名称</div>
<div class="t c" style="left:432.2px;top:659.5px">材料</div>
<div class="t c" style="left:530.5px;top:633.8px">阀体、阀盖</div>
<div class="t c" style="left:530.5px;top:659.5px">碳钢</div>
<div class="t c" style="left:636px;top:633.8px">弹簧</div>
<div class="t c" style="left:636px;top:659.5px">不锈钢</div>
<div class="t c n" style="left:45px;top:768.4px">DN</div>
<div class="t c n" style="left:45px;top:796.3px">L</div>
<div class="t c n" style="left:126px;top:768.4px">50</div>
<div class="t c n" style="left:126px;top:796.3px">340</div>
<div class="t c n" style="left:202.4px;top:768.4px">65</div>
<div class="t c n" style="left:202.4px;top:796.3px">380</div>
<div class="t c n" style="left:278.8px;top:768.4px">80</div>
<div class="t c n" style="left:278.8px;top:796.3px">410</div>
<div class="t c n" style="left:354px;top:768.4px">100</div>
<div class="t c n" style="left:354px;top:796.3px">450</div>
<div class="t c n" style="left:431px;top:768.4px">125</div>
<div class="t c n" style="left:431px;top:796.3px">480</div>
<div class="t c n" style="left:506.2px;top:768.4px">150</div>
<div class="t c n" style="left:506.2px;top:796.3px">550</div>
<div class="t c n" style="left:582.5px;top:768.4px">200</div>
<div class="t c n" style="left:582.5px;top:796.3px">630</div>
<div class="t c n" style="left:659px;top:768.4px">250</div>
<div class="t c n" style="left:659px;top:796.3px">750</div>
</body>
</html>
